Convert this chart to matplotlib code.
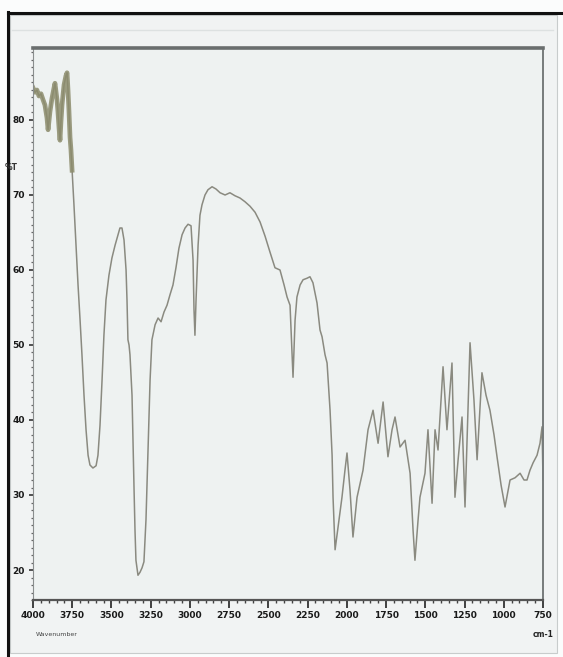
"""IR transmittance spectrum, redrawn from a scanned instrument printout."""

import matplotlib.pyplot as plt
from matplotlib.patches import Rectangle
from matplotlib.lines import Line2D
from matplotlib.ticker import MultipleLocator

# wavenumber (cm-1) and transmittance (%T)
wavenumber = [
    4000, 3987, 3975, 3962, 3949, 3936, 3924, 3911, 3904, 3892, 3879, 3866,
    3860, 3853, 3847, 3841, 3834, 3828, 3822, 3815, 3809, 3802, 3796, 3790,
    3783, 3777, 3771, 3764, 3758, 3751, 3739, 3726, 3713, 3700, 3688, 3675,
    3662, 3649, 3637, 3618, 3598, 3586, 3573, 3560, 3548, 3535, 3516, 3497,
    3477, 3458, 3446, 3433, 3420, 3407, 3401, 3395, 3388, 3382, 3369, 3363,
    3356, 3350, 3344, 3331, 3318, 3305, 3293, 3280, 3267, 3254, 3242, 3222,
    3203, 3184, 3165, 3146, 3127, 3108, 3089, 3070, 3050, 3031, 3012, 2993,
    2980, 2974, 2968, 2961, 2948, 2936, 2923, 2904, 2885, 2859, 2834, 2808,
    2776, 2745, 2713, 2681, 2649, 2617, 2585, 2553, 2521, 2490, 2458, 2426,
    2400, 2381, 2362, 2343, 2330, 2318, 2298, 2279, 2254, 2235, 2216, 2190,
    2171, 2158, 2139, 2126, 2107, 2094, 2088, 2075, 2056, 2031, 2012, 1999,
    1980, 1961, 1935, 1897, 1865, 1833, 1801, 1769, 1738, 1712, 1693, 1661,
    1629, 1597, 1578, 1566, 1546, 1534, 1502, 1483, 1457, 1438, 1419, 1387,
    1362, 1330, 1311, 1291, 1266, 1247, 1215, 1190, 1170, 1139, 1113, 1088,
    1062, 1043, 1017, 992, 960, 928, 896, 871, 852, 833, 813, 788,
    769, 756, 750,
]
transmittance = [
    84.3, 83.7, 84.0, 83.2, 83.5, 82.7, 82.0, 80.3, 78.7, 81.1, 82.9, 84.3,
    84.9, 83.7, 82.7, 81.1, 78.9, 77.3, 79.7, 82.0, 83.3, 84.7, 85.3, 85.9,
    86.3, 84.0, 81.3, 77.7, 76.0, 73.3, 68.7, 63.3, 58.0, 53.3, 48.7, 43.3,
    38.7, 35.3, 34.0, 33.6, 33.9, 35.3, 39.3, 45.3, 51.3, 56.0, 59.3, 61.6,
    63.3, 64.7, 65.6, 65.6, 64.0, 60.0, 56.0, 50.7, 50.0, 48.7, 43.3, 37.3,
    30.7, 25.3, 21.3, 19.3, 19.7, 20.3, 21.1, 26.7, 36.0, 45.3, 50.7, 52.7,
    53.6, 53.1, 54.4, 55.3, 56.7, 58.0, 60.3, 62.9, 64.7, 65.6, 66.1, 65.9,
    61.3, 54.7, 51.3, 56.0, 63.3, 67.3, 68.7, 70.0, 70.7, 71.1, 70.8, 70.3,
    70.0, 70.3, 69.9, 69.6, 69.1, 68.5, 67.7, 66.4, 64.5, 62.4, 60.3, 60.0,
    58.0, 56.4, 55.3, 45.7, 53.3, 56.4, 58.0, 58.7, 58.9, 59.1, 58.3, 55.6,
    52.0, 51.1, 48.7, 47.6, 41.3, 35.3, 29.7, 22.7, 25.7, 29.7, 33.3, 35.6,
    30.7, 24.4, 29.7, 33.3, 38.7, 41.3, 36.9, 42.4, 35.1, 38.7, 40.4, 36.4,
    37.3, 32.9, 25.3, 21.3, 26.7, 29.7, 32.9, 38.7, 28.9, 38.7, 36.0, 47.1,
    38.7, 47.6, 29.7, 34.7, 40.4, 28.4, 50.3, 42.7, 34.7, 46.3, 43.3, 41.3,
    38.0, 35.1, 31.3, 28.4, 32.0, 32.3, 32.9, 32.0, 32.0, 33.3, 34.3, 35.3,
    36.9, 39.1, 32.0,
]
n_noisy = 30  # first points drawn as the thick olive band

x_ticks = list(range(4000, 749, -250))
y_ticks = [20, 30, 40, 50, 60, 70, 80]

W, H = 563, 657
fig = plt.figure(figsize=(W / 100, H / 100), dpi=100)
fig.patch.set_facecolor("#fbfcfc")

# scanned page frame, kept behind the plot
fig.patches.append(Rectangle((10 / W, 1 - 653 / H), 547 / W, 638 / H,
                             transform=fig.transFigure, facecolor="#f1f3f3",
                             edgecolor="#c8cccc", linewidth=0.8, zorder=-10))
fig.lines.append(Line2D([8 / W, 8 / W], [0, 1 - 12 / H], transform=fig.transFigure,
                        color="#111111", linewidth=2.2, zorder=-5))
fig.lines.append(Line2D([8 / W, 1], [1 - 13 / H, 1 - 13 / H], transform=fig.transFigure,
                        color="#111111", linewidth=2.2, zorder=-5))
fig.lines.append(Line2D([12 / W, 553 / W], [1 - 30 / H, 1 - 30 / H], transform=fig.transFigure,
                        color="#dde1e1", linewidth=1.0, zorder=-5))

ax = fig.add_axes([33 / W, 1 - 600 / H, 510 / W, 552 / H])
ax.set_zorder(1)
ax.set_facecolor("#eef2f1")

ax.plot(wavenumber, transmittance, color="#8a8a80", linewidth=1.1)
ax.plot(wavenumber[:n_noisy], transmittance[:n_noisy], color="#8c8c6c",
        linewidth=3.4, alpha=0.85, solid_joinstyle="round")

ax.set_xlim(4000, 750)
ax.set_ylim(16.0, 89.6)

ax.set_xticks(x_ticks)
ax.set_xticklabels([str(v) for v in x_ticks])
ax.xaxis.set_minor_locator(MultipleLocator(50))
ax.set_yticks(y_ticks)
ax.set_yticklabels([str(v) for v in y_ticks])
ax.yaxis.set_minor_locator(MultipleLocator(1))

ax.tick_params(axis="x", which="major", direction="out", length=6, width=1.3,
               color="#333333", labelsize=6.5, pad=2, labelcolor="#1a1a1a")
ax.tick_params(axis="x", which="minor", direction="out", length=2.5, width=1.0,
               color="#444444")
ax.tick_params(axis="y", which="major", direction="out", length=3, width=1.3,
               color="#444444", labelsize=6.5, pad=3, labelcolor="#1a1a1a")
ax.tick_params(axis="y", which="minor", direction="out", length=1.5, width=0.9,
               color="#666666")
for lab in ax.get_xticklabels() + ax.get_yticklabels():
    lab.set_fontweight("bold")

ax.spines["top"].set_color("#6a6e6e")
ax.spines["top"].set_linewidth(2.6)
ax.spines["right"].set_color("#777b7b")
ax.spines["right"].set_linewidth(1.4)
ax.spines["bottom"].set_color("#555555")
ax.spines["bottom"].set_linewidth(1.6)
ax.spines["left"].set_color("#8a8e8e")
ax.spines["left"].set_linewidth(0.8)

ax.text(-0.03, 0.784, "%T", transform=ax.transAxes, fontsize=5.5, fontweight="bold",
        color="#333333", ha="right", va="center")
ax.text(0.005, -0.062, "Wavenumber", transform=ax.transAxes, fontsize=4.5,
        color="#444444", ha="left", va="center")
ax.text(1.0, -0.062, "cm-1", transform=ax.transAxes, fontsize=5.5, fontweight="bold",
        color="#222222", ha="center", va="center")

fig.savefig("out.png", dpi=100, facecolor=fig.get_facecolor())
